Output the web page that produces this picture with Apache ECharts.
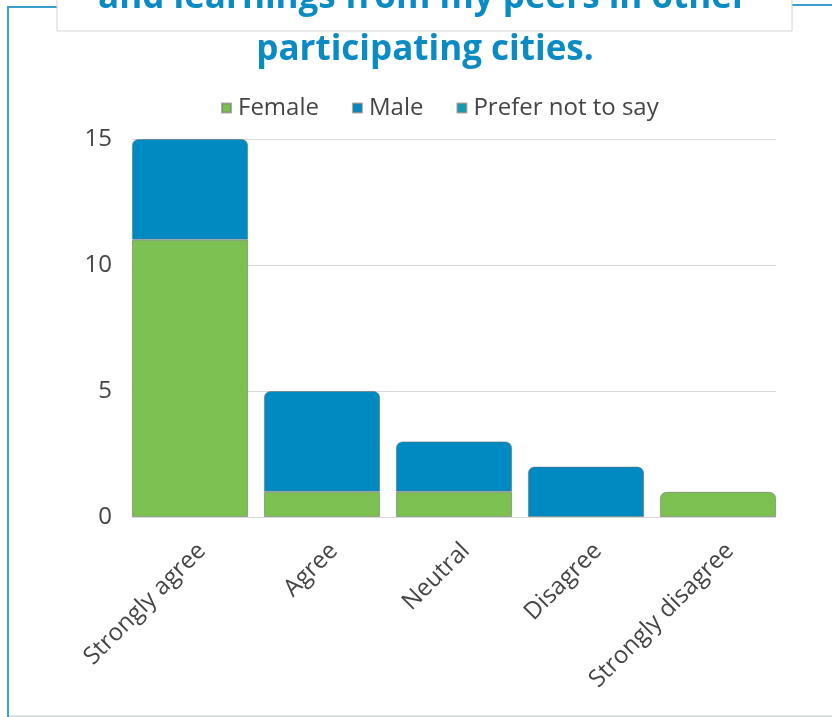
<!DOCTYPE html>
<html><head><meta charset="utf-8">
<script src="https://cdn.jsdelivr.net/npm/echarts@6/dist/echarts.min.js"></script>
<style>html,body{margin:0;padding:0;background:#fff}#c{width:832px;height:717px}</style>
</head><body><div id="c"></div>
<script>
const categories = ['Strongly agree', 'Agree', 'Neutral', 'Disagree', 'Strongly disagree'];
const seriesNames = ['Female', 'Male', 'Prefer not to say'];
const female = [11, 1, 1, 0, 1];
const male = [4, 4, 2, 2, 0];
const preferNot = [0, 0, 0, 0, 0];
const yTicks = [0, 5, 10, 15];
const titleLines = ['and learnings from my peers in other', 'participating cities.'];

const colors = ['#7dc052', '#008ac2', '#129db7'];
const allVals = [female, male, preferNot];
const FONT = '"Open Sans", sans-serif';

// topmost non-zero series for each category gets rounded top
const topIdx = categories.map((_, i) => {
  let t = -1;
  allVals.forEach((arr, s) => { if (arr[i] > 0) t = s; });
  return t;
});

const series = allVals.map((arr, s) => ({
  name: seriesNames[s],
  type: 'bar',
  stack: 'total',
  xAxisIndex: 0, yAxisIndex: 0,
  barCategoryGap: '12%',
  itemStyle: { color: colors[s], borderColor: 'rgba(110,110,110,0.55)', borderWidth: 1 },
  emphasis: { disabled: true },
  data: arr.map((v, i) => v === 0 ? '-' : {
    value: v,
    itemStyle: { borderRadius: topIdx[i] === s ? [6, 6, 0, 0] : 0 }
  })
}));

const chart = echarts.init(document.getElementById('c'), null, { renderer: 'canvas' });
chart.setOption({
  animation: false,
  backgroundColor: '#fff',
  textStyle: { fontFamily: FONT },
  legend: {
    data: seriesNames,
    top: 91, left: 216,
    icon: 'rect', itemWidth: 9, itemHeight: 9, itemGap: 33,
    textStyle: { fontFamily: FONT, fontSize: 24, color: '#454545', padding: [0, 0, 0, 2] }
  },
  grid: [
    { left: 124, right: 48, top: 139, bottom: 200 },
    { left: 132, right: 56, top: 139, bottom: 200 }
  ],
  xAxis: [
    {
      type: 'category', gridIndex: 0, data: categories,
      axisLine: { show: false }, axisTick: { show: false },
      axisLabel: { rotate: 45, fontFamily: FONT, fontSize: 24, color: '#454545', margin: 18, interval: 0,
                   verticalAlign: 'top', lineHeight: 34 }
    },
    {
      type: 'category', gridIndex: 1, data: categories,
      axisLine: { show: false }, axisTick: { show: false }, axisLabel: { show: false }
    }
  ],
  yAxis: [
    {
      type: 'value', gridIndex: 0, min: yTicks[0], max: yTicks[yTicks.length - 1], interval: 5,
      axisLabel: { show: false }, splitLine: { show: false }, axisLine: { show: false }, axisTick: { show: false }
    },
    {
      type: 'value', gridIndex: 1, min: yTicks[0], max: yTicks[yTicks.length - 1], interval: 5,
      axisLine: { show: false }, axisTick: { show: false },
      axisLabel: { fontFamily: FONT, fontSize: 24, color: '#454545', margin: 20 },
      splitLine: { lineStyle: { color: '#d9d9d9', width: 1 } }
    }
  ],
  series: series,
  graphic: [
    { type: 'polyline', z: 1, shape: { points: [[57, 7], [8, 7], [8, 717]] }, style: { stroke: '#3b9fcf', lineWidth: 2, fill: null } },
    { type: 'line', z: 1, shape: { x1: 792, y1: 5, x2: 832, y2: 5 }, style: { stroke: '#3b9fcf', lineWidth: 2 } },
    { type: 'line', z: 1, shape: { x1: 9, y1: 716, x2: 832, y2: 716 }, style: { stroke: '#dde3e8', lineWidth: 2 } },
    { type: 'rect', z: 2, shape: { x: 57, y: -10, width: 735, height: 41 }, style: { fill: '#fff', stroke: '#d4d4d4', lineWidth: 1 } },
    { type: 'text', z: 3, style: { text: titleLines[0], x: 423, y: -2, align: 'center', verticalAlign: 'middle', fill: '#0a8bc4', font: 'bold 35px "Open Sans", sans-serif' } },
    { type: 'text', z: 3, style: { text: titleLines[1], x: 425, y: 50, align: 'center', verticalAlign: 'middle', fill: '#0a8bc4', font: 'bold 35px "Open Sans", sans-serif' } }
  ]
});
</script></body></html>
